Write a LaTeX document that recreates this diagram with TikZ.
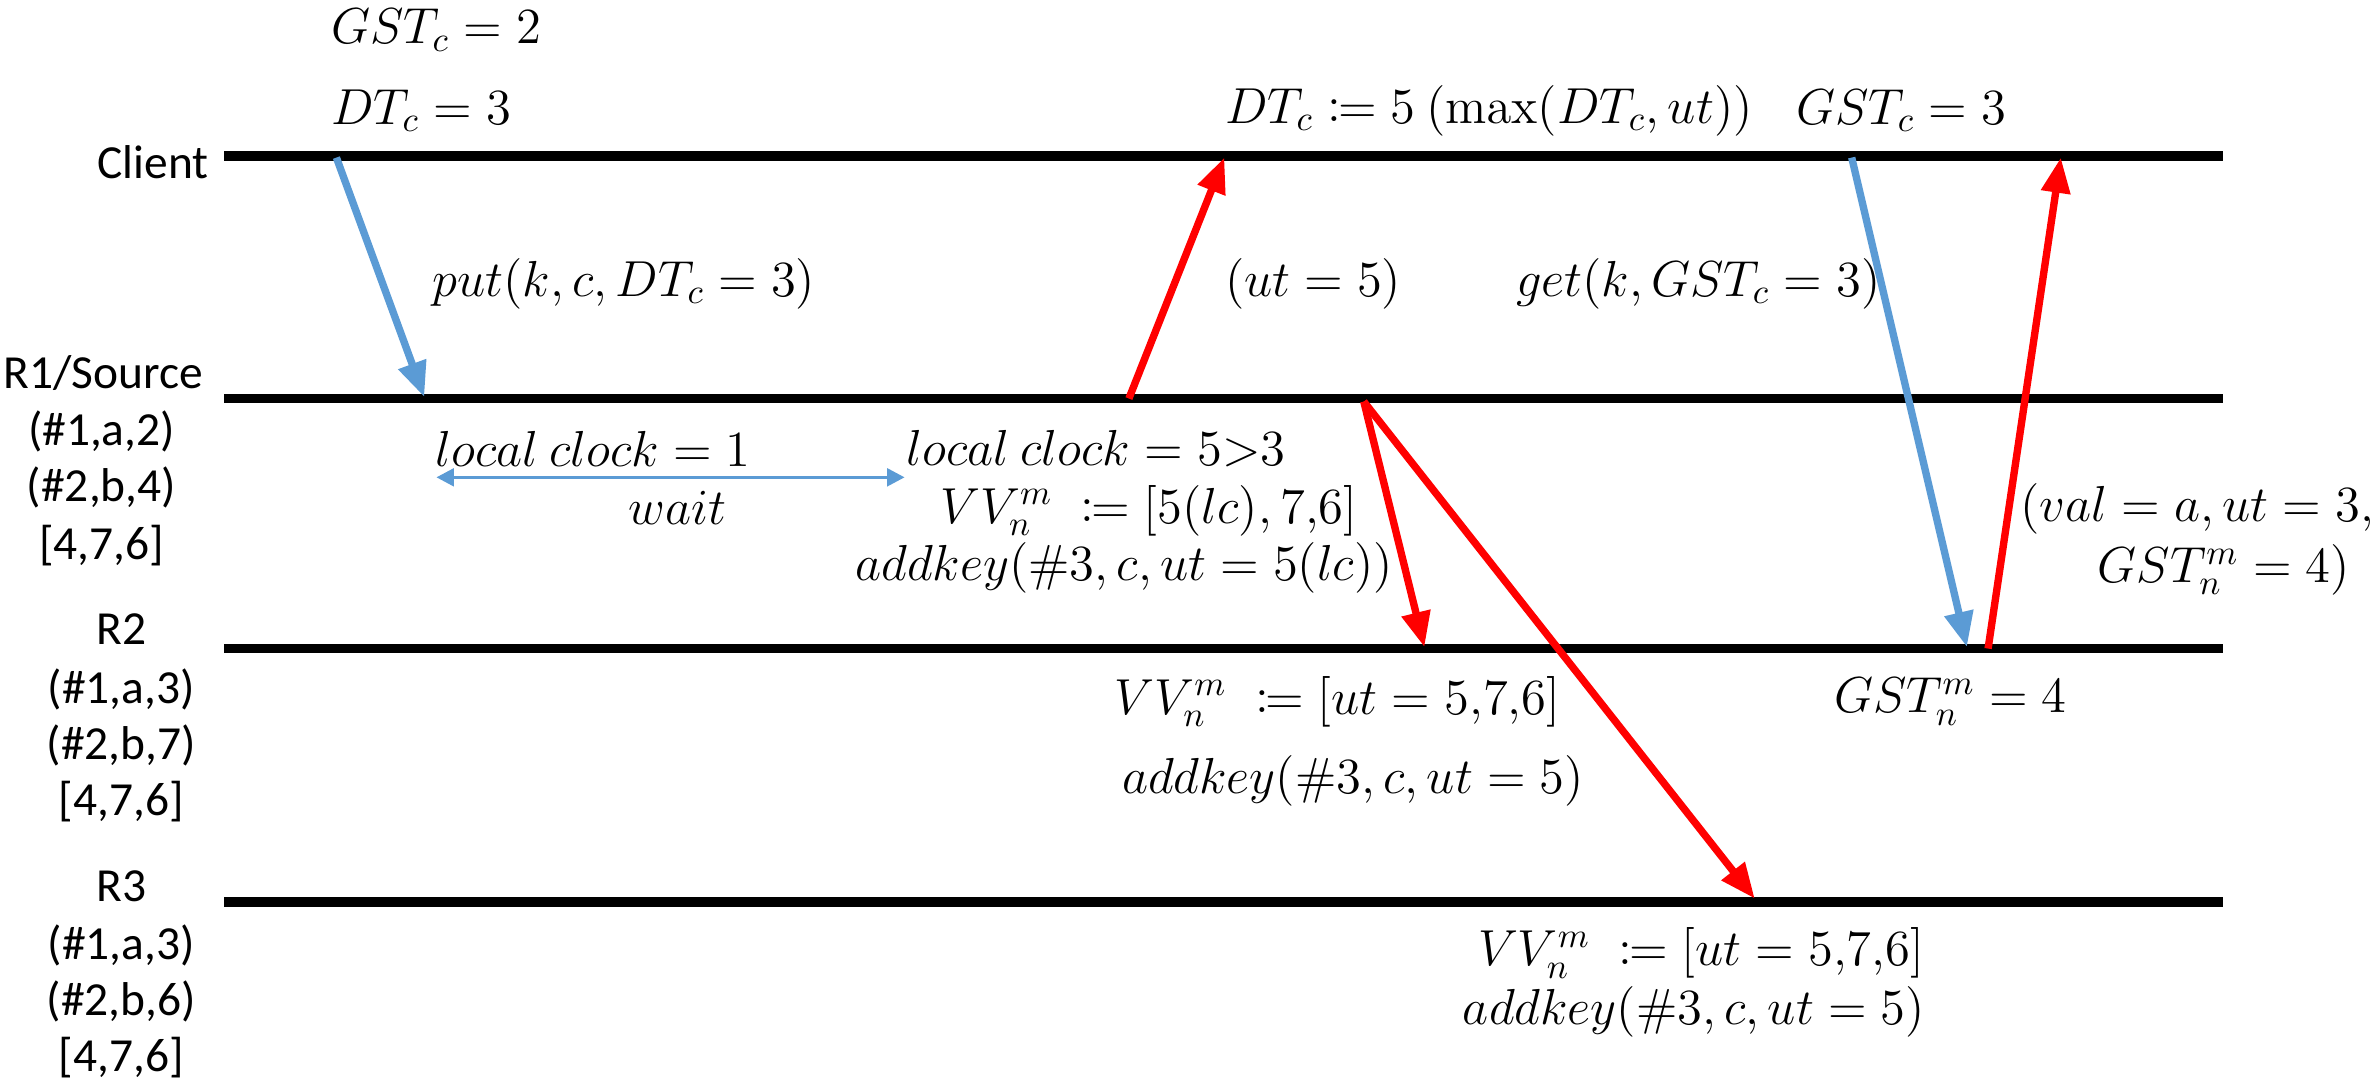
\documentclass[tikz,border=0pt]{standalone}
\usepackage[no-math]{fontspec}
\setmainfont{Carlito}
\usepackage{mathtools}
\usetikzlibrary{arrows.meta}
\definecolor{msgblue}{HTML}{5B9BD5}
\definecolor{msgred}{HTML}{FF0000}

\begin{document}
\begin{tikzpicture}[x=0.015153cm,y=-0.015153cm,
  timeline/.style={line width=2.8pt,line cap=butt},
  msg/.style={line width=2.1pt,-{Triangle[length=10pt,width=8pt]}},
  req/.style={msg,draw=msgblue,fill=msgblue},
  rep/.style={msg,draw=msgred,fill=msgred},
  lbl/.style={font=\fontsize{13.5}{16}\selectfont,inner sep=0pt},
  eq/.style={font=\fontsize{13.8}{16}\selectfont,inner sep=0pt,anchor=west},
  eqc/.style={font=\fontsize{13.8}{16}\selectfont,inner sep=0pt},
]
\useasboundingbox (0,0) rectangle (1568,715);

% process timelines
\coordinate (cl-a) at (148,103);  \coordinate (cl-b) at (1467,103);
\coordinate (r1-a) at (148,263);  \coordinate (r1-b) at (1467,263);
\coordinate (r2-a) at (148,428);  \coordinate (r2-b) at (1467,428);
\coordinate (r3-a) at (148,595);  \coordinate (r3-b) at (1467,595);
\draw[timeline] (cl-a) -- (cl-b);
\draw[timeline] (r1-a) -- (r1-b);
\draw[timeline] (r2-a) -- (r2-b);
\draw[timeline] (r3-a) -- (r3-b);

% process names and their stored state
\node[lbl] (nclient) at (101,107) {Client};
\node[lbl] (nr1)  at (68,246) {R1/Source};
\node[lbl] (r1k1) at (67,285) {(\#1,a,2)};
\node[lbl] (r1k2) at (67,322) {(\#2,b,4)};
\node[lbl] (r1vv) at (67,360) {[4,7,6]};
\node[lbl] (nr2)  at (80,415) {R2};
\node[lbl] (r2k1) at (80,455) {(\#1,a,3)};
\node[lbl] (r2k2) at (80,492) {(\#2,b,7)};
\node[lbl] (r2vv) at (80,529) {[4,7,6]};
\node[lbl] (nr3)  at (80,585) {R3};
\node[lbl] (r3k1) at (80,624) {(\#1,a,3)};
\node[lbl] (r3k2) at (80,661) {(\#2,b,6)};
\node[lbl] (r3vv) at (80,698) {[4,7,6]};

% client state
\node[eq] (gst2) at (218,20) {$GST_c = 2$};
\node[eq] (dt3)  at (218,73) {$DT_c = 3$};
\node[eq] (dt5)  at (808,73) {$DT_c \coloneqq 5\ (\max(DT_c, ut))$};
\node[eq] (gst3) at (1185,73) {$GST_c = 3$};

% put request and the source's local processing
\coordinate (put-s) at (222,104);
\coordinate (put-e) at (280,262);
\draw[req] (put-s) -- (put-e);
\node[eq] (putlbl) at (285,187) {$put(k, c, DT_c = 3)$};

\node[eq] (lc1) at (287,296) {$local\ clock = 1$};
\coordinate (wait-a) at (288,315);
\coordinate (wait-b) at (597,315);
\draw[msgblue,line width=1pt,{Triangle[length=5pt,width=5pt]}-{Triangle[length=5pt,width=5pt]}] (wait-a) -- (wait-b);
\node[eqc] (waitlbl) at (447,335) {$wait$};

\node[eq] (lc5) at (598,296) {$local\ clock = 5{>}3$};
\node[eq] (vv1) at (620,337) {$VV_n^m\;\coloneqq [5(lc), 7{,}6]$};
\node[eq] (ak1) at (564,375) {$addkey(\#3, c, ut = 5(lc))$};

\coordinate (ut-s) at (745,263);
\coordinate (ut-e) at (808,104);
\draw[rep] (ut-s) -- (ut-e);
\node[eq] (utlbl) at (808,187) {$(ut = 5)$};

% replication to R2 and R3
\coordinate (rep-s) at (900,265);
\coordinate (rep2-e) at (940,427);
\coordinate (rep3-e) at (1158,593);
\draw[rep] (rep-s) -- (rep2-e);
\draw[rep] (rep-s) -- (rep3-e);

\node[eq] (vv2) at (735,463) {$VV_n^m\;\coloneqq [ut = 5{,}7{,}6]$};
\node[eq] (ak2) at (740,515) {$addkey(\#3, c, ut = 5)$};
\node[eq] (vv3) at (975,629) {$VV_n^m\;\coloneqq [ut = 5{,}7{,}6]$};
\node[eq] (ak3) at (965,668) {$addkey(\#3, c, ut = 5)$};

% get request and its reply
\coordinate (get-s) at (1222,104);
\coordinate (get-e) at (1298,427);
\draw[req] (get-s) -- (get-e);
\node[eq] (getlbl) at (1000,187) {$get(k, GST_c = 3)$};

\coordinate (val-s) at (1312,428);
\coordinate (val-e) at (1360,104);
\draw[rep] (val-s) -- (val-e);
\node[eq] (val1) at (1333,336) {$(val = a, ut = 3,$};
\node[eq] (val2) at (1384,376) {$GST_n^m = 4)$};
\node[eq] (gst4) at (1210,463) {$GST_n^m = 4$};
\end{tikzpicture}
\end{document}
